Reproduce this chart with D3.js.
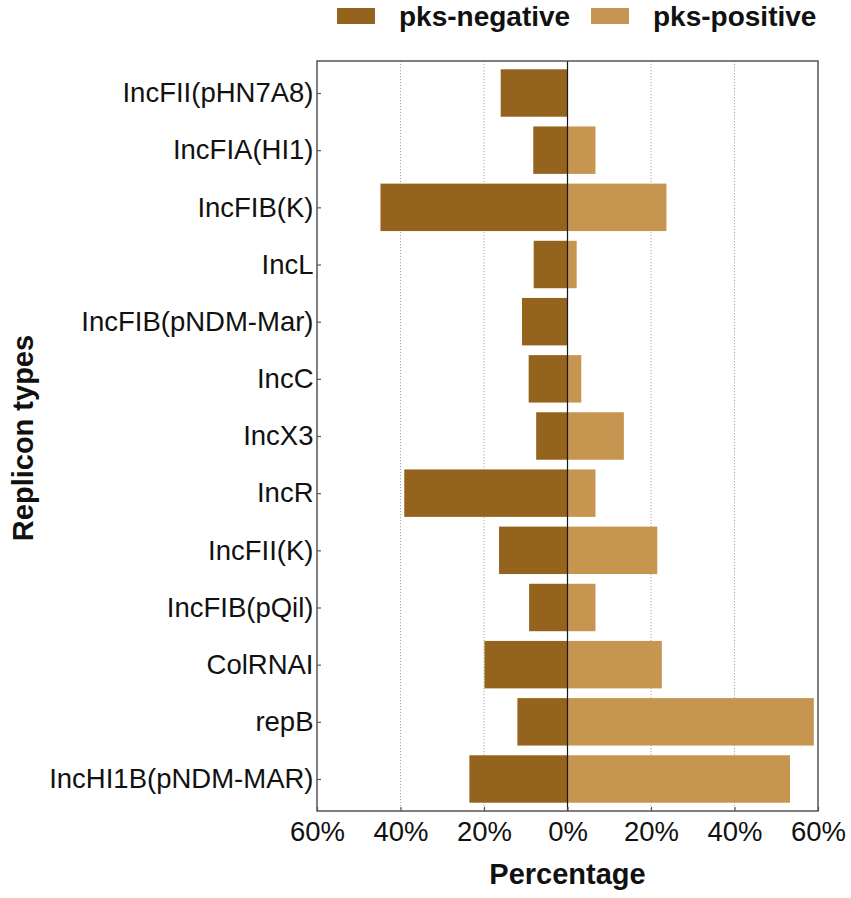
<!DOCTYPE html>
<html>
<head>
<meta charset="utf-8">
<script src="https://cdn.jsdelivr.net/npm/d3@7/dist/d3.min.js"></script>
<style>
  html, body { margin: 0; padding: 0; background: #fff; }
  svg { display: block; font-family: "Liberation Sans", Arial, sans-serif; }
</style>
</head>
<body>
<svg id="chart" width="851" height="898"></svg>
<script>
// ---- data ----
const categories = [
  "IncFII(pHN7A8)", "IncFIA(HI1)", "IncFIB(K)", "IncL", "IncFIB(pNDM-Mar)",
  "IncC", "IncX3", "IncR", "IncFII(K)", "IncFIB(pQil)", "ColRNAI", "repB",
  "IncHI1B(pNDM-MAR)"
];
const pksNegative = [16.0, 8.2, 44.8, 8.1, 10.9, 9.3, 7.5, 39.1, 16.4, 9.2, 19.9, 12.0, 23.5];
const pksPositive = [0, 6.7, 23.7, 2.2, 0, 3.3, 13.5, 6.7, 21.5, 6.7, 22.6, 59.0, 53.3];
const xTickValues = [-60, -40, -20, 0, 20, 40, 60];
const seriesNames = ["pks-negative", "pks-positive"];
const seriesColors = ["#94641F", "#C69651"];

// ---- layout ----
const svg = d3.select("#chart");
const P = { left: 317, right: 818, top: 61, bottom: 811 };

const x = d3.scaleLinear().domain([-60, 60]).range([P.left, P.right]);
const y = d3.scalePoint().domain(categories).range([P.top, P.bottom]).padding(0.56);
const barH = y.step() * 0.83;

// gridlines (dotted)
svg.append("g").selectAll("line")
  .data(xTickValues.filter(v => v !== 0 && Math.abs(v) !== 60))
  .join("line")
  .attr("x1", d => x(d)).attr("x2", d => x(d))
  .attr("y1", P.top).attr("y2", P.bottom)
  .attr("stroke", "#a8a8a8").attr("stroke-width", 1)
  .attr("stroke-dasharray", "1.2,1.8");

// bars
const rows = categories.map((c, i) => ({ c, neg: pksNegative[i], pos: pksPositive[i] }));
svg.append("g").selectAll("rect.neg")
  .data(rows).join("rect")
  .attr("class", "neg")
  .attr("x", d => x(-d.neg))
  .attr("width", d => x(0) - x(-d.neg))
  .attr("y", d => y(d.c) - barH / 2)
  .attr("height", barH)
  .attr("fill", seriesColors[0]);
svg.append("g").selectAll("rect.pos")
  .data(rows.filter(d => d.pos > 0)).join("rect")
  .attr("class", "pos")
  .attr("x", x(0))
  .attr("width", d => x(d.pos) - x(0))
  .attr("y", d => y(d.c) - barH / 2)
  .attr("height", barH)
  .attr("fill", seriesColors[1]);

// zero line
svg.append("line")
  .attr("x1", x(0)).attr("x2", x(0))
  .attr("y1", P.top).attr("y2", P.bottom)
  .attr("stroke", "#1a1a1a").attr("stroke-width", 1.2);

// frame
svg.append("rect")
  .attr("x", P.left).attr("y", P.top)
  .attr("width", P.right - P.left).attr("height", P.bottom - P.top)
  .attr("fill", "none").attr("stroke", "#555").attr("stroke-width", 1.5);

// y axis (ticks drawn inward, labels to the left)
const yAxis = d3.axisLeft(y).tickSizeInner(-4).tickSizeOuter(0).tickPadding(3.5);
const gy = svg.append("g").attr("transform", `translate(${P.left},0)`).call(yAxis);
gy.select(".domain").remove();
gy.selectAll(".tick line").attr("stroke", "#555").attr("stroke-width", 1.2);
gy.selectAll(".tick text")
  .attr("font-size", 27.5).attr("fill", "#111")
  .attr("font-family", "'Liberation Sans', Arial, sans-serif");

// x axis
const xAxis = d3.axisBottom(x).tickValues(xTickValues)
  .tickFormat(d => Math.abs(d) + "%").tickSizeInner(-4).tickSizeOuter(0).tickPadding(10);
const gx = svg.append("g").attr("transform", `translate(0,${P.bottom})`).call(xAxis);
gx.select(".domain").remove();
gx.selectAll(".tick line").attr("stroke", "#555").attr("stroke-width", 1.2);
gx.selectAll(".tick text")
  .attr("font-size", 27.5).attr("fill", "#111")
  .attr("font-family", "'Liberation Sans', Arial, sans-serif");

// axis titles
svg.append("text")
  .attr("x", (P.left + P.right) / 2).attr("y", 884)
  .attr("text-anchor", "middle")
  .attr("font-size", 29).attr("font-weight", "bold").attr("fill", "#111")
  .text("Percentage");
svg.append("text")
  .attr("transform", `translate(33,${(P.top + P.bottom) / 2 + 2}) rotate(-90)`)
  .attr("text-anchor", "middle")
  .attr("font-size", 29).attr("font-weight", "bold").attr("fill", "#111")
  .text("Replicon types");

// legend
const legendItems = [
  { name: seriesNames[0], color: seriesColors[0], kx: 337, tx: 399 },
  { name: seriesNames[1], color: seriesColors[1], kx: 591, tx: 653 }
];
const lg = svg.append("g");
lg.selectAll("rect").data(legendItems).join("rect")
  .attr("x", d => d.kx).attr("y", 8)
  .attr("width", 38).attr("height", 16)
  .attr("fill", d => d.color);
lg.selectAll("text").data(legendItems).join("text")
  .attr("x", d => d.tx).attr("y", 26)
  .attr("font-size", 28).attr("font-weight", "bold").attr("fill", "#111")
  .text(d => d.name);
</script>
</body>
</html>
